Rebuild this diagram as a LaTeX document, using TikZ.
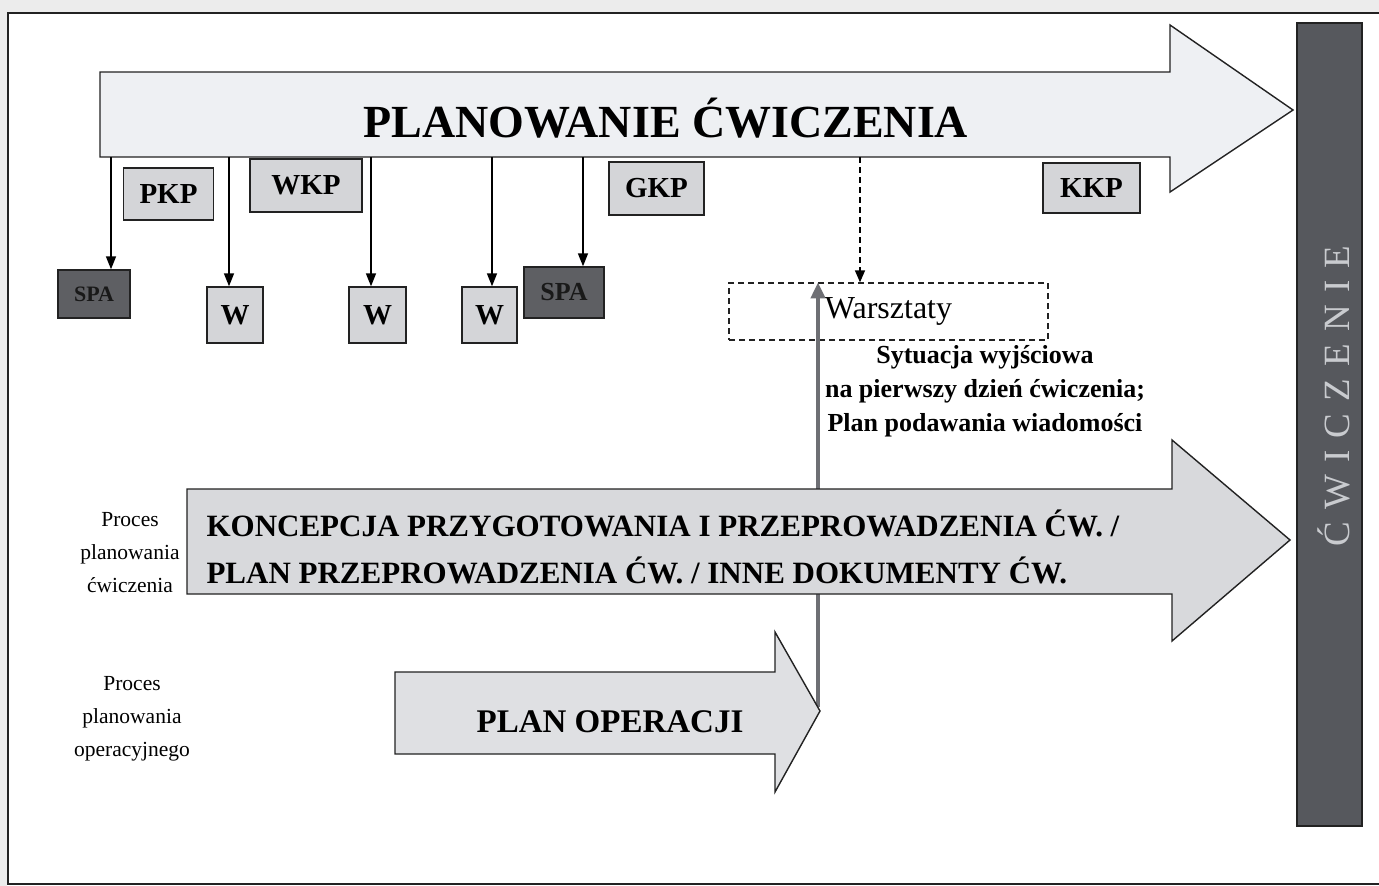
\documentclass[tikz,border=0pt]{standalone}
\usepackage{fontspec}
\setmainfont{Liberation Serif}
\usetikzlibrary{arrows.meta}

\definecolor{topfill}{HTML}{EEF0F3}
\definecolor{midfill}{HTML}{D8D9DC}
\definecolor{opfill}{HTML}{DFE0E3}
\definecolor{boxfill}{HTML}{D4D5D8}
\definecolor{spafill}{HTML}{5E5F63}
\definecolor{barfill}{HTML}{56585D}
\definecolor{bartext}{HTML}{C9CBCF}
\definecolor{linkgrey}{HTML}{6E6F74}
\definecolor{edge}{HTML}{222222}
\definecolor{outer}{HTML}{ECECEC}

\begin{document}
\begin{tikzpicture}[x=1pt,y=-1pt,
  shapeline/.style={draw=edge, line width=1.4pt, line join=miter},
  keybox/.style={draw=edge, line width=1.4pt, fill=boxfill, inner sep=0pt,
    font=\fontsize{29}{34}\selectfont\bfseries},
  wbox/.style={keybox, minimum width=56pt, minimum height=56pt, font=\fontsize{29}{34}\selectfont\bfseries},
  spabox/.style={draw=edge, line width=1.4pt, fill=spafill, inner sep=0pt, text=black!90},
  drop/.style={draw=black, line width=1.5pt, -{Triangle[width=10pt,length=13pt]}},
  dashdrop/.style={draw=black, line width=1.4pt, dash pattern=on 6pt off 4pt,
    -{Triangle[width=10pt,length=12pt]}},
  greylink/.style={draw=linkgrey, line width=4pt, -{Triangle[width=14pt,length=16pt]}},
  sidelabel/.style={align=center, font=\fontsize{21.5}{33}\selectfont},
  arrowtext/.style={anchor=base west, font=\fontsize{31}{37}\selectfont\bfseries},
]
\useasboundingbox (0,0) rectangle (1379,886);

% page ground and frame
\fill[white] (0,0) rectangle (1379,886);
\fill[outer] (0,0) rectangle (1379,12);
\fill[outer] (0,0) rectangle (7,886);
\draw[edge, line width=2pt] (1379,13) -- (8,13) -- (8,884) -- (1379,884);

% workshop box
\node[draw=edge, line width=1.3pt, dash pattern=on 6pt off 4pt, minimum width=319pt,
  minimum height=57pt, inner sep=0pt, font=\fontsize{32}{38}\selectfont]
  (warsz) at (888.5,311.5) {Warsztaty};

% operational plan feeds the workshop (passes behind the middle arrow)
\coordinate (gs) at (818,707);
\draw[greylink] (gs) -- (gs |- warsz.north);

% middle arrow: exercise planning documents
\draw[shapeline, fill=midfill] (187,489) -- (1172,489) -- (1172,440) -- (1290,540)
  -- (1172,641) -- (1172,594) -- (187,594) -- cycle;
\node[arrowtext] (konc1) at (203,536) {KONCEPCJA PRZYGOTOWANIA I PRZEPROWADZENIA ĆW. /};
\node[arrowtext] (konc2) at (203,583) {PLAN PRZEPROWADZENIA ĆW. / INNE DOKUMENTY ĆW.};

% bottom arrow: operation plan
\draw[shapeline, fill=opfill] (395,672) -- (775,672) -- (775,632) -- (820,711)
  -- (775,792) -- (775,754) -- (395,754) -- cycle;
\node[anchor=base, font=\fontsize{33}{40}\selectfont\bfseries] (oplan) at (610,732) {PLAN OPERACJI};

% top arrow: exercise planning
\draw[shapeline, fill=topfill] (100,72) -- (1170,72) -- (1170,25) -- (1293,110)
  -- (1170,192) -- (1170,157) -- (100,157) -- cycle;
\node[anchor=base, font=\fontsize{46}{55}\selectfont\bfseries] (title) at (666,137) {PLANOWANIE ĆWICZENIA};

% exercise bar
\node[draw=edge, line width=1.2pt, fill=barfill, minimum width=65pt, minimum height=803pt,
  inner sep=0pt] (bar) at (1329.5,424.5) {};
\node[rotate=90, text=bartext, font=\fontsize{37}{44}\selectfont\addfontfeature{LetterSpace=33}]
  (barlabel) at (1334,396) {ĆWICZENIE};

% conference boxes
\node[keybox, minimum width=90pt, minimum height=52pt] (pkp) at (168.5,194) {PKP};
\node[keybox, minimum width=112pt, minimum height=53pt] (wkp) at (306,185.5) {WKP};
\node[keybox, minimum width=95pt, minimum height=53pt] (gkp) at (656.5,188.5) {GKP};
\node[keybox, minimum width=97pt, minimum height=50pt] (kkp) at (1091.5,188) {KKP};

% analysis and workshop boxes
\node[spabox, minimum width=72pt, minimum height=48pt, font=\fontsize{22}{26}\selectfont\bfseries] (spa1) at (94,294) {SPA};
\node[spabox, minimum width=80pt, minimum height=51pt, font=\fontsize{26}{30}\selectfont\bfseries] (spa2) at (564,292.5) {SPA};
\node[wbox] (w1) at (235,315) {W};
\node[wbox, minimum width=57pt] (w2) at (377.5,315) {W};
\node[wbox, minimum width=55pt] (w3) at (489.5,315) {W};

% drops from the planning arrow
\coordinate (d1) at (111,157);
\coordinate (d2) at (229,157);
\coordinate (d3) at (371,157);
\coordinate (d4) at (492,157);
\coordinate (d5) at (583,157);
\coordinate (d6) at (860,157);
\draw[drop] (d1) -- (d1 |- spa1.north);
\draw[drop] (d2) -- (d2 |- w1.north);
\draw[drop] (d3) -- (d3 |- w2.north);
\draw[drop] (d4) -- (d4 |- w3.north);
\draw[drop] (d5) -- (d5 |- spa2.north);
\draw[dashdrop] (d6) -- (d6 |- warsz.north);

% outputs of the workshop (anchored on the last line's baseline)
\node[align=center, font=\fontsize{26}{34}\selectfont\bfseries, anchor=base] (sytu) at (985,431)
  {Sytuacja wyjściowa\\na pierwszy dzień ćwiczenia;\\Plan podawania wiadomości};

% process labels (anchored on the last line's baseline)
\node[sidelabel, anchor=base] (proc1) at (130,592) {Proces\\planowania\\ćwiczenia};
\node[sidelabel, anchor=base] (proc2) at (132,756) {Proces\\planowania\\operacyjnego};
\end{tikzpicture}
\end{document}
